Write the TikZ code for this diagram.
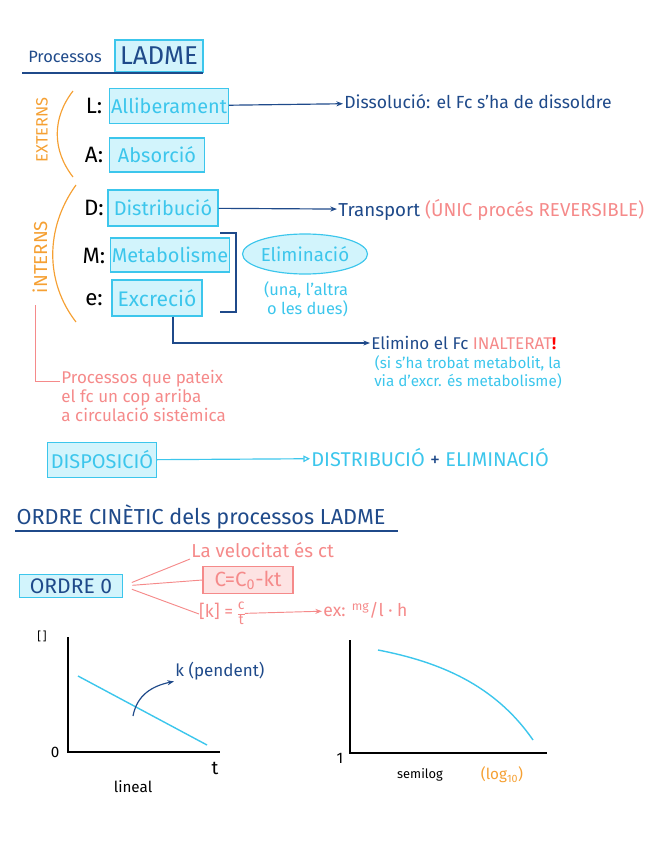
\documentclass[tikz,border=0pt]{standalone}
\usepackage{fontspec}
\setmainfont{Fira Sans}
\usetikzlibrary{arrows.meta, shapes.geometric}
\definecolor{inkblue}{HTML}{1F4A8A}
\definecolor{boxcyan}{HTML}{3CC6EC}
\definecolor{fillcyan}{HTML}{D2F4FC}
\definecolor{inkorange}{HTML}{F5A033}
\definecolor{inkpink}{HTML}{F58A8A}
\definecolor{fillpink}{HTML}{FDE3E3}
\tikzset{
  hand/.style={inner sep=1pt, font=\fontsize{13}{15}\selectfont},
  tbox/.style={draw=boxcyan, fill=fillcyan, line width=1pt, inner sep=1pt, text=boxcyan, font=\fontsize{17}{19}\selectfont},
  kletter/.style={hand, font=\fontsize{19}{21}\selectfont, text=black},
  kblue/.style={hand, text=inkblue}, kcyan/.style={hand, text=boxcyan},
  kpink/.style={hand, text=inkpink}, korange/.style={hand, text=inkorange},
  flow/.style={-{Stealth[length=2mm]}, line width=1pt, draw=inkblue},
  pinkflow/.style={-{Stealth[length=2mm]}, line width=0.8pt, draw=inkpink},
  axis/.style={line width=1pt, draw=black},
}
\newcommand{\kfrac}[2]{{\fontsize{12}{14}\selectfont\renewcommand\arraystretch{0.85}\begin{tabular}[c]{@{}c@{}}#1\\\hline #2\end{tabular}}}

\begin{document}
\begin{tikzpicture}[x=0.03cm, y=-0.03cm]
    \useasboundingbox (0,0) rectangle (656,848);
    % LADME
    \node[kblue, font=\fontsize{14}{16}\selectfont] (proc) at (65,57) {Processos};
    \node[tbox, text=inkblue, minimum width=2.64cm, minimum height=0.96cm, font=\fontsize{22}{24}\selectfont] (ladme) at (159,56) {LADME};
    \draw[inkblue, line width=1pt] (22,73) -- (203,73);
    \node[korange, rotate=90, font=\fontsize{14}{16}\selectfont] (ext) at (42,130) {EXTERNS};
    \draw[inkorange, line width=1pt] (73,91) .. controls (52,118) and (52,150) .. (73,177);
    \node[kletter] (lL) at (94,106) {L:};
    \node[kletter] (lA) at (94,155) {A:};
    \node[tbox, minimum width=3.54cm, minimum height=1.05cm] (alli) at (169,106) {Alliberament};
    \node[tbox, minimum width=2.85cm, minimum height=1.02cm] (absor) at (157,155) {Absorció};
    \node[kblue, anchor=west, font=\fontsize{15}{17}\selectfont] (dissol) at (343,102) {Dissolució: el Fc s'ha de dissoldre};
    \draw[flow] (alli) -- (dissol);
    % interns
    \node[korange, rotate=90, font=\fontsize{16}{18}\selectfont] (int) at (40,257) {iNTERNS};
    \draw[inkorange, line width=1pt] (76,185) .. controls (45,228) and (45,282) .. (76,322);
    \node[kletter] (lD) at (94,208) {D:};
    \node[kletter] (lM) at (94,256) {M:};
    \node[kletter] (le) at (94,300) {e:};
    \node[tbox, minimum width=3.30cm, minimum height=1.08cm] (distr) at (163,208) {Distribució};
    \node[tbox, minimum width=3.45cm, minimum height=1.02cm] (metab) at (170,255) {Metabolisme};
    \node[tbox, minimum width=2.70cm, minimum height=1.08cm, font=\fontsize{18}{20}\selectfont] (excr) at (157,298) {Excreció};
    \node[kblue, anchor=west, font=\fontsize{16}{18}\selectfont] (transp) at (337,210) {Transport \textcolor{inkpink}{(ÚNIC procés REVERSIBLE)}};
    \draw[flow] (distr) -- (transp);
    \draw[inkblue, line width=1pt] (220,233) -- (236,233) -- (236,312) -- (220,312);
    \node[tbox, ellipse, inner sep=0pt, minimum width=3.6cm, minimum height=1.2cm, font=\fontsize{16}{18}\selectfont] (elimin) at (305,254) {Eliminació};
    \node[kcyan, align=right, font=\fontsize{14}{16}\selectfont] (unaltra) at (306,299) {(una, l'altra\\o les dues)};
    \node[kblue, anchor=west, font=\fontsize{14.5}{16}\selectfont] (elimtxt) at (370,343) {Elimino el Fc \textcolor{inkpink}{INALTERAT}\textcolor{red}{\textbf{!}}};
    \draw[flow] ([xshift=0.48cm]excr.south) |- (elimtxt);
    \node[kcyan, align=center, font=\fontsize{13}{15}\selectfont] (metnote) at (468,372) {(si s'ha trobat metabolit, la\\via d'excr. és metabolisme)};
    \coordinate (intbot) at (35,305);
    \node[kpink, anchor=north west, align=left, font=\fontsize{14.5}{16}\selectfont] (proctxt) at (60,369) {Processos que pateix\\el fc un cop arriba\\a circulació sistèmica};
    \draw[inkpink, line width=0.8pt] (intbot) |- ([yshift=-0.36cm]proctxt.north west);
    % disposicio
    \node[tbox, minimum width=3.27cm, minimum height=1.05cm] (dispo) at (102,460) {DISPOSICIÓ};
    \node[kcyan, anchor=west, font=\fontsize{17}{19}\selectfont] (dispotxt) at (310,458) {DISTRIBUCIÓ \textcolor{inkblue}{+} ELIMINACIÓ};
    \draw[-{Triangle[open, length=2mm, width=2mm]}, line width=1pt, boxcyan] (dispo) -- (dispotxt);
    % ordre cinetic
    \node[kblue, font=\fontsize{18.5}{20}\selectfont] (ordtitle) at (201,517) {ORDRE CINÈTIC dels processos LADME};
    \draw[inkblue, line width=1pt] (15,531) -- (398,531);
    \node[tbox, text=inkblue, minimum width=3.09cm, minimum height=0.69cm, font=\fontsize{18}{20}\selectfont] (ord0) at (71,586) {ORDRE 0};
    \node[kpink, anchor=west, font=\fontsize{16}{18}\selectfont] (veloc) at (190,550) {La velocitat és ct};
    \node[tbox, draw=inkpink, fill=fillpink, text=inkpink, minimum width=2.7cm, minimum height=0.82cm, font=\fontsize{17.5}{19}\selectfont] (cbox) at (248,580) {C=C\textsubscript{0}-kt};
    \node[kpink, anchor=west, inner sep=0pt, font=\fontsize{15}{17}\selectfont] (kunit) at (199,614) {[k] = \kfrac{c}{t}};
    \node[kpink, anchor=west, font=\fontsize{15}{17}\selectfont] (kex) at (322,610) {ex: \textsuperscript{mg}/l · h};
    \draw[inkpink, line width=0.8pt, shorten <=8pt] (ord0.east) -- (veloc.south west);
    \draw[inkpink, line width=0.8pt, shorten <=8pt] (ord0.east) -- (cbox.west);
    \draw[inkpink, line width=0.8pt, shorten <=8pt] (ord0.east) -- (kunit.west);
    \draw[pinkflow] (kunit) -- (kex);
    % grafic lineal
    \draw[axis] (68,637) -- (68,752) -- (220,752);
    \node[hand, text=black, font=\fontsize{10}{12}\selectfont] (conc) at (42,636) {[\,]};
    \node[hand, text=black] (zero) at (55,752) {0};
    \node[hand, text=black, font=\fontsize{16}{18}\selectfont] (tlab) at (215,768) {t};
    \node[hand, text=black] (lineal) at (133,787) {lineal};
    \draw[boxcyan, line width=1.2pt] (78,676) -- (207,745);
    \coordinate (kpt) at (133,716);
    \node[kblue, anchor=west, font=\fontsize{14.5}{16}\selectfont] (kslope) at (174,671) {k (pendent)};
    \draw[flow] (kpt) .. controls (137,695) and (152,686) .. (kslope.south west);
    % grafic semilog
    \draw[axis] (350,640) -- (350,753) -- (547,753);
    \node[hand, text=black] (one) at (340,758) {1};
    \draw[boxcyan, line width=1.2pt] (378,650) .. controls (440,662) and (495,685) .. (533,740);
    \node[hand, text=black, font=\fontsize{11}{13}\selectfont] (semilog) at (420,775) {semilog};
    \node[korange] (logten) at (502,775) {(log\textsubscript{10})};
  \end{tikzpicture}
\end{document}
